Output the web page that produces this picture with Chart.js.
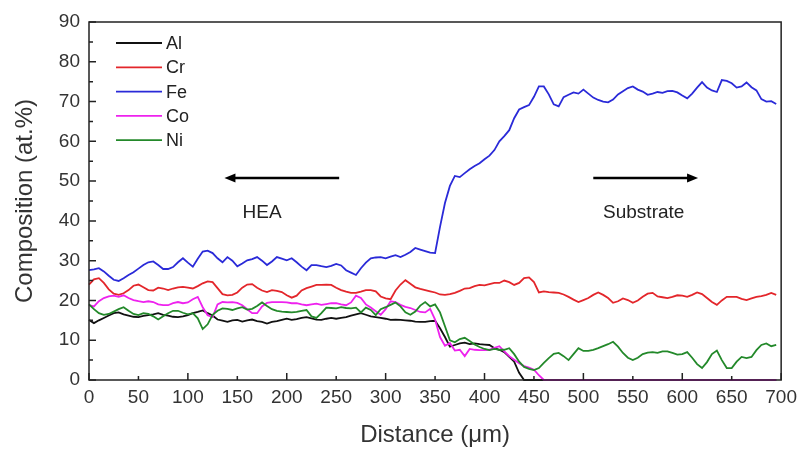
<!DOCTYPE html>
<html>
<head>
<meta charset="utf-8">
<script src="https://cdn.jsdelivr.net/npm/chart.js@4.4.0/dist/chart.umd.min.js"></script>
<style>
  html, body { margin: 0; padding: 0; background: #fff; }
  #wrap { width: 803px; height: 449px; position: relative; }
</style>
</head>
<body>
<div id="wrap"><canvas id="chart"></canvas></div>
<script>
// --- Datos (paso de 5 µm) ---
const distance = [
  0, 5, 10, 15, 20, 25, 30, 35, 40, 45, 50, 55, 60, 65, 70, 75, 80, 85, 90, 95,
  100, 105, 110, 115, 120, 125, 130, 135, 140, 145, 150, 155, 160, 165, 170, 175, 180, 185, 190, 195,
  200, 205, 210, 215, 220, 225, 230, 235, 240, 245, 250, 255, 260, 265, 270, 275, 280, 285, 290, 295,
  300, 305, 310, 315, 320, 325, 330, 335, 340, 345, 350, 355, 360, 365, 370, 375, 380, 385, 390, 395,
  400, 405, 410, 415, 420, 425, 430, 435, 440, 445, 450, 455, 460, 465, 470, 475, 480, 485, 490, 495,
  500, 505, 510, 515, 520, 525, 530, 535, 540, 545, 550, 555, 560, 565, 570, 575, 580, 585, 590, 595,
  600, 605, 610, 615, 620, 625, 630, 635, 640, 645, 650, 655, 660, 665, 670, 675, 680, 685, 690, 695
];

const al = [
  15.1, 14.3, 15.0, 15.6, 16.2, 16.8, 17.0, 16.5, 16.2, 15.9, 15.8, 16.1, 16.3, 16.5, 16.8, 16.4, 16.2, 15.9, 15.8, 16.0,
  16.3, 16.8, 17.1, 17.5, 16.8, 16.2, 15.2, 14.9, 14.6, 15.0, 15.1, 14.7, 15.0, 15.2, 14.8, 14.6, 14.2, 14.6, 14.8, 15.1,
  15.4, 15.1, 15.3, 15.6, 15.8, 15.5, 15.2, 15.1, 15.4, 15.6, 15.4, 15.6, 15.8, 16.2, 16.5, 16.8, 16.4, 16.0, 15.8, 15.6,
  15.4, 15.1, 15.2, 15.1, 15.0, 14.9, 14.7, 14.6, 14.6, 14.8, 14.9, 13.0, 10.8, 8.4, 8.8, 9.2, 9.4, 9.0, 9.2, 9.0,
  8.9, 8.8, 8.0, 7.6, 7.0, 5.8, 4.6, 1.8, 0, 0, 0, 0, 0, 0, 0, 0, 0, 0, 0, 0,
  0, 0, 0, 0, 0, 0, 0, 0, 0, 0, 0, 0, 0, 0, 0, 0, 0, 0, 0, 0,
  0, 0, 0, 0, 0, 0, 0, 0, 0, 0, 0, 0, 0, 0, 0, 0, 0, 0, 0, 0
];

const cr = [
  24.0, 25.3, 25.6, 24.4, 22.8, 21.7, 21.4, 21.8, 22.6, 23.7, 24.0, 23.3, 22.6, 22.5, 23.2, 23.0, 22.6, 23.0, 23.3, 23.4,
  23.2, 23.0, 23.6, 24.3, 24.8, 24.6, 23.1, 21.6, 21.3, 21.4, 22.0, 23.2, 24.0, 24.1, 23.2, 22.5, 22.1, 22.6, 22.4, 22.1,
  21.3, 20.7, 21.2, 22.5, 23.1, 23.5, 23.9, 23.9, 24.0, 23.9, 23.2, 22.6, 22.2, 21.9, 21.9, 22.2, 22.6, 22.6, 22.3, 21.0,
  20.5, 20.3, 22.5, 24.0, 25.1, 24.2, 23.3, 22.9, 22.6, 22.3, 22.0, 21.5, 21.4, 21.6, 21.9, 22.4, 23.0, 23.1, 23.6, 23.9,
  23.8, 24.1, 24.4, 24.4, 25.0, 24.6, 23.9, 24.4, 25.6, 25.8, 24.6, 22.0, 22.3, 22.1, 22.0, 21.9, 21.5, 20.9, 20.2, 19.6,
  20.1, 20.6, 21.4, 22.0, 21.4, 20.6, 19.4, 19.8, 20.5, 20.1, 19.4, 20.0, 20.9, 21.7, 21.9, 21.0, 20.8, 20.6, 20.9, 21.3,
  21.2, 20.9, 21.4, 22.0, 21.6, 20.6, 19.6, 18.9, 20.0, 20.9, 20.9, 20.9, 20.4, 20.1, 20.5, 20.9, 21.1, 21.4, 21.9, 21.4
];

const fe = [
  27.6, 27.8, 28.1, 27.3, 26.2, 25.2, 24.9, 25.6, 26.4, 27.1, 28.0, 28.9, 29.6, 29.8, 28.9, 27.9, 27.9, 28.4, 29.6, 30.6,
  29.5, 28.5, 30.5, 32.3, 32.5, 31.9, 30.6, 29.6, 30.9, 30.0, 28.6, 29.3, 30.1, 30.4, 30.9, 30.0, 28.9, 29.8, 30.9, 30.5,
  30.1, 30.6, 29.6, 28.5, 27.6, 28.9, 28.9, 28.6, 28.4, 28.7, 29.2, 28.8, 27.6, 27.0, 26.4, 28.1, 29.5, 30.6, 30.8, 30.9,
  30.6, 31.0, 31.4, 30.9, 31.5, 32.2, 33.2, 32.8, 32.4, 32.0, 31.9, 38.5, 44.5, 48.8, 51.3, 51.0, 52.0, 53.0, 53.8, 54.5,
  55.5, 56.4, 57.8, 60.0, 61.3, 62.8, 65.8, 68.0, 68.6, 69.1, 71.2, 73.8, 73.8, 71.8, 69.3, 68.8, 71.1, 71.7, 72.3, 72.0,
  73.0, 72.0, 71.0, 70.4, 70.0, 69.8, 70.5, 71.8, 72.6, 73.4, 73.8, 73.0, 72.5, 71.7, 72.0, 72.4, 72.2, 72.6, 72.7, 72.3,
  71.5, 70.8, 72.0, 73.5, 74.9, 73.5, 72.8, 72.4, 75.4, 75.2, 74.6, 73.5, 73.8, 74.8, 73.6, 72.8, 70.6, 70.0, 70.1, 69.4
];

const co = [
  18.8, 18.5, 19.8, 20.6, 21.0, 21.2, 20.9, 21.3, 20.6, 20.1, 19.8, 19.6, 19.8, 19.6, 19.0, 18.8, 18.8, 19.3, 19.6, 19.3,
  19.5, 20.3, 20.9, 18.3, 16.3, 15.8, 19.0, 19.6, 19.5, 19.6, 19.4, 18.8, 17.8, 16.8, 16.8, 18.5, 19.4, 19.6, 19.6, 19.6,
  19.5, 19.3, 19.3, 19.0, 18.8, 19.0, 19.2, 18.9, 19.1, 19.3, 19.3, 19.0, 18.8, 19.5, 21.2, 20.6, 19.0, 18.2, 17.3, 16.4,
  17.8, 19.8, 19.6, 18.9, 18.4, 18.1, 17.6, 17.1, 17.0, 17.9, 15.2, 10.8, 8.6, 9.3, 7.4, 7.6, 6.0, 7.8, 7.6, 7.5,
  7.5, 7.6, 8.1, 8.5, 7.2, 6.0, 5.1, 4.2, 3.5, 3.1, 2.6, 1.2, 0, 0, 0, 0, 0, 0, 0, 0,
  0, 0, 0, 0, 0, 0, 0, 0, 0, 0, 0, 0, 0, 0, 0, 0, 0, 0, 0, 0,
  0, 0, 0, 0, 0, 0, 0, 0, 0, 0, 0, 0, 0, 0, 0, 0, 0, 0, 0, 0
];

const ni = [
  19.0, 17.8, 16.8, 16.4, 16.6, 17.2, 17.8, 18.3, 17.4, 16.6, 16.3, 16.8, 16.6, 16.0, 15.2, 16.0, 16.8, 17.4, 17.4, 16.9,
  16.5, 16.8, 15.5, 12.8, 14.0, 16.4, 17.4, 18.0, 17.9, 17.6, 18.0, 18.3, 17.7, 17.9, 18.6, 19.5, 18.6, 17.8, 17.4, 17.2,
  17.1, 17.0, 17.1, 17.4, 17.6, 16.0, 15.6, 16.8, 18.2, 18.1, 18.0, 18.3, 18.1, 18.0, 18.2, 17.0, 18.2, 17.6, 16.3, 17.8,
  18.3, 18.9, 19.5, 18.5, 17.0, 16.4, 17.2, 18.7, 19.6, 18.5, 19.0, 17.0, 13.5, 10.0, 9.5, 10.3, 10.6, 9.8, 8.9, 8.3,
  7.8, 7.5, 7.8, 7.6, 7.6, 8.0, 6.5, 4.6, 3.3, 2.8, 2.5, 3.0, 4.3, 5.5, 6.6, 6.8, 6.0, 5.0, 6.5, 8.0,
  7.3, 7.3, 7.6, 8.0, 8.5, 9.0, 9.6, 8.4, 6.8, 5.6, 5.0, 5.6, 6.5, 6.9, 7.0, 6.8, 7.2, 7.2, 6.8, 6.4,
  6.5, 7.0, 5.6, 4.0, 3.0, 4.5, 6.5, 7.4, 5.0, 3.0, 3.0, 4.6, 5.8, 5.5, 5.8, 7.5, 8.8, 9.2, 8.5, 8.8
];

const seriesNames = ['Al', 'Cr', 'Fe', 'Co', 'Ni'];
const seriesColors = ['#111111', '#e3262b', '#2a2ad8', '#ee22ee', '#23892a'];

// Anotaciones (en unidades de datos)
const arrowY = 50.8;
const heaArrow = [253, 137];        // de -> hacia (punta a la izquierda)
const substrateArrow = [510, 616];  // de -> hacia (punta a la derecha)
const notes = [
  { text: 'HEA', x: 175, y: 42 },
  { text: 'Substrate', x: 561, y: 42 }
];

const FONT = "'Liberation Sans', Arial, sans-serif";

// --- Plugin: marco, ticks hacia dentro, leyenda y flechas ---
const decor = {
  id: 'decor',
  afterDraw(chart) {
    const ctx = chart.ctx;
    const a = chart.chartArea;
    const xs = chart.scales.x, ys = chart.scales.y;
    ctx.save();
    ctx.strokeStyle = '#222';
    ctx.lineWidth = 1.5;

    // ticks hacia dentro (mayores y menores)
    ctx.beginPath();
    for (let v = 0; v <= 700; v += 50) {
      const px = xs.getPixelForValue(v);
      const len = v % 100 === 0 ? 7 : 4;
      ctx.moveTo(px, a.bottom);
      ctx.lineTo(px, a.bottom - len);
    }
    for (let v = 0; v <= 90; v += 5) {
      const py = ys.getPixelForValue(v);
      const len = v % 10 === 0 ? 7 : 4;
      ctx.moveTo(a.left, py);
      ctx.lineTo(a.left + len, py);
    }
    ctx.stroke();

    // marco
    ctx.strokeRect(a.left, a.top, a.right - a.left, a.bottom - a.top);

    // leyenda
    ctx.font = '18px ' + FONT;
    ctx.textBaseline = 'middle';
    ctx.textAlign = 'left';
    seriesNames.forEach((name, i) => {
      const y = 43 + i * 24.3;
      ctx.strokeStyle = seriesColors[i];
      ctx.lineWidth = 1.8;
      ctx.beginPath();
      ctx.moveTo(116, y);
      ctx.lineTo(162, y);
      ctx.stroke();
      ctx.fillStyle = '#222';
      ctx.fillText(name, 166, y + 1);
    });

    // flechas
    function arrow(x0, x1) {
      const p0 = xs.getPixelForValue(x0), p1 = xs.getPixelForValue(x1);
      const py = ys.getPixelForValue(arrowY);
      const dir = Math.sign(p1 - p0);
      ctx.strokeStyle = '#000';
      ctx.fillStyle = '#000';
      ctx.lineWidth = 2.5;
      ctx.beginPath();
      ctx.moveTo(p0, py);
      ctx.lineTo(p1 - dir * 8, py);
      ctx.stroke();
      ctx.beginPath();
      ctx.moveTo(p1, py);
      ctx.lineTo(p1 - dir * 11, py - 4.5);
      ctx.lineTo(p1 - dir * 11, py + 4.5);
      ctx.closePath();
      ctx.fill();
    }
    arrow(heaArrow[0], heaArrow[1]);
    arrow(substrateArrow[0], substrateArrow[1]);

    ctx.font = '19px ' + FONT;
    ctx.fillStyle = '#222';
    ctx.textAlign = 'center';
    notes.forEach(n => {
      ctx.fillText(n.text, xs.getPixelForValue(n.x), ys.getPixelForValue(n.y));
    });
    ctx.restore();
  }
};

const datasets = [al, cr, fe, co, ni].map((vals, i) => ({
  label: seriesNames[i],
  data: vals,
  borderColor: seriesColors[i],
  borderWidth: 1.8,
  pointRadius: 0,
  tension: 0,
  fill: false,
  clip: false,
  order: 5 - i
}));

new Chart(document.getElementById('chart'), {
  type: 'line',
  data: { labels: distance, datasets: datasets },
  options: {
    responsive: true,
    maintainAspectRatio: false,
    animation: false,
    layout: { padding: { top: 22, right: 20, left: 0, bottom: 0 } },
    plugins: { legend: { display: false }, tooltip: { enabled: false } },
    scales: {
      x: {
        type: 'linear',
        min: 0, max: 700,
        afterFit(scale) { scale.height = 69; },
        grid: { display: false, drawTicks: false },
        border: { display: false },
        ticks: { stepSize: 50, padding: 6, color: '#333', font: { family: FONT, size: 19 }, maxRotation: 0, autoSkip: false },
        title: { display: true, text: 'Distance (μm)', color: '#333', font: { family: FONT, size: 24, lineHeight: 1.1 }, padding: { top: 0, bottom: 0 } }
      },
      y: {
        min: 0, max: 90,
        afterFit(scale) { scale.width = 89; },
        grid: { display: false, drawTicks: false },
        border: { display: false },
        ticks: { stepSize: 10, padding: 9, color: '#333', font: { family: FONT, size: 19 } },
        title: { display: true, text: 'Composition (at.%)', color: '#333', font: { family: FONT, size: 24, lineHeight: 1.1 }, padding: { top: 12, bottom: 0 } }
      }
    }
  },
  plugins: [decor]
});
</script>
</body>
</html>
